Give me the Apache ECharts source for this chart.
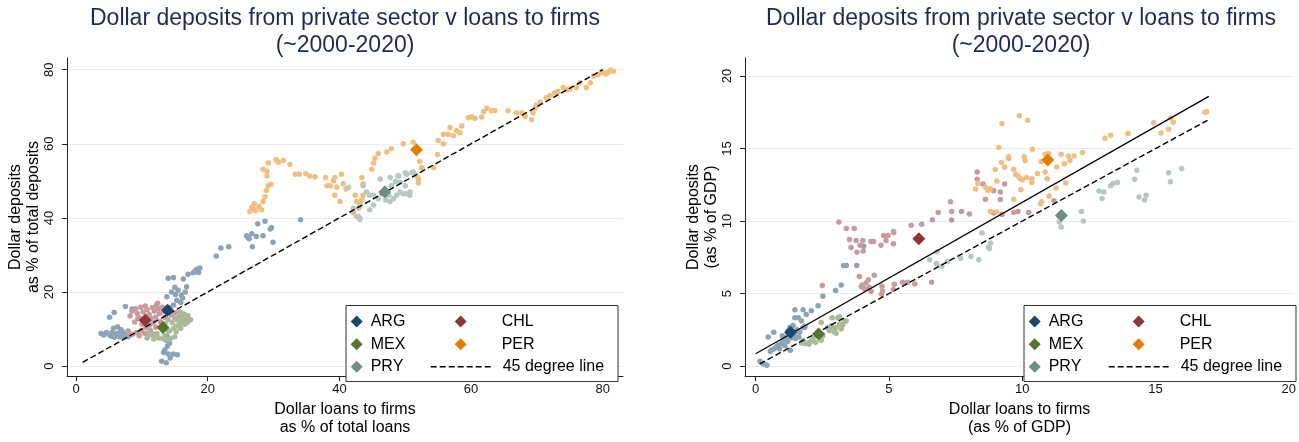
<!DOCTYPE html>
<html><head><meta charset="utf-8">
<script src="https://cdn.jsdelivr.net/npm/echarts@6/dist/echarts.min.js"></script>
<style>html,body{margin:0;padding:0;background:#fff}#c{width:1299px;height:442px}</style>
</head><body><div id="c"></div>
<script>
// ---------- data ----------
const countries = ['ARG', 'CHL', 'MEX', 'PER', 'PRY'];
const countryColors = ['#1a476f', '#90353b', '#55752f', '#e37e00', '#6e8e84'];
const cloudColors = ['#8ca3b7', '#c89a9d', '#aaba97', '#f1be80', '#b7c7c2'];

const shareTicksX = [0, 20, 40, 60, 80];
const shareTicksY = [0, 20, 40, 60, 80];
const gdpTicksX = [0, 5, 10, 15, 20];
const gdpTicksY = [0, 5, 10, 15, 20];

// Left panel: share of total loans / deposits
const shareARG = [[3.8,8.8],[4.2,8.4],[4.6,9.1],[5.0,8.6],[5.3,8.1],[5.5,9.1],[5.8,7.8],[6.0,8.5],[6.3,8.9],[6.6,7.9],[6.9,8.4],[7.2,8.0],[7.5,8.6],[7.9,7.9],[8.3,8.4],[5.7,10.2],[6.3,10.6],[6.8,9.9],[7.0,9.4],
  [5.1,13.2],[5.8,14.5],[7.5,16.1],[8.5,15.4],
  [13.7,7.0],[13.9,5.4],[13.5,4.4],[13.3,3.7],[14.0,3.3],[14.8,3.3],[15.4,3.1],[14.3,2.2],[13.0,1.3],[13.7,0.9],[14.2,6.2],[13.8,8.2],
  [14.0,23.7],[14.8,23.9],[15.0,21.3],[14.5,20.0],[15.5,20.5],[16.0,19.1],[16.6,20.0],[13.8,18.7],[15.3,17.8],[14.8,16.5],[15.9,17.2],[14.2,15.8],[16.2,18.4],[15.1,19.3],[16.8,21.4],[15.4,12.5],[16.0,11.8],[15.7,13.2],
  [17.0,24.8],[17.8,25.2],[18.3,26.1],[18.8,26.5],[16.3,23.5],[18.6,25.3],[18.1,25.7],
  [21.3,29.7],[22.0,31.9],[23.2,32.2],
  [25.9,35.2],[26.3,34.4],[26.7,35.7],[26.8,32.2],[27.6,38.4],[28.4,35.2],[28.7,39.1],[29.5,37.0],[29.7,37.4],[29.9,33.4],[27.4,35.0],[26.1,34.8],[34.1,39.5]];
const shareCHL = [[8.2,13.5],[8.5,14.8],[9.0,15.5],[9.3,14.2],[9.6,13.1],[9.8,15.9],[10.2,14.6],[10.5,16.2],[10.8,15.3],[11.1,14.0],[11.3,12.9],[11.6,15.8],[11.9,14.9],[12.2,16.4],[12.5,15.5],[12.7,14.2],[13.1,15.9],[13.4,14.7],[13.8,15.6],[14.2,14.9],
  [12.1,13.2],[11.8,11.8],[11.2,11.1],[10.6,10.4],[9.9,9.7],[9.2,9.1],[8.6,8.6],[9.6,8.2],[10.4,8.9],[11.3,9.6],[12.1,10.5],[12.8,12.0],[8.9,11.9],[9.4,12.8],[10.0,11.4],[10.7,13.4],[13.5,13.2],[14.5,13.8],[11.9,8.6],[10.9,8.3],[12.4,17.0],[15.1,14.4],[8.0,8.9],[7.9,9.5]];
const shareMEX = [[11.5,8.5],[12.0,8.0],[12.6,7.6],[13.2,7.4],[13.8,7.2],[14.4,7.5],[15.0,7.9],[11.0,9.0],[12.3,8.8],[13.5,8.2],[10.8,7.6],[11.8,7.3],
  [14.2,9.5],[14.8,10.2],[15.3,10.8],[15.8,11.5],[16.3,12.2],[16.8,12.8],[17.0,13.6],[16.5,11.3],[15.9,10.2],[15.2,9.3],[14.6,11.8],[15.5,12.6],[16.1,13.4],[14.0,12.5],[13.5,11.5],[16.9,11.8],[17.4,12.5],[16.4,14.1],[15.0,13.0],[13.8,9.8],[15.8,14.6]];
const sharePER = [[26.4,41.7],[26.9,42.5],[27.3,41.9],[27.8,43.1],[28.2,42.2],[28.4,44.4],[27.1,43.8],[26.7,42.9],[28.7,45.7],[28.9,47.4],[29.2,48.7],[29.6,49.1],[29.0,51.3],[28.4,53.1],[29.0,52.6],[29.2,54.8],[30.4,55.7],[30.7,55.0],[31.5,55.5],[32.5,54.4],
  [33.3,51.8],[33.9,51.8],[34.9,51.9],[35.5,51.3],[36.3,51.1],[37.9,50.9],[38.1,48.7],[38.6,48.7],[39.1,50.0],[39.6,48.3],[39.3,50.9],[40.3,51.8],[40.6,49.2],[41.0,47.8],[39.3,46.1],[40.1,44.4],
  [42.4,46.1],[42.6,44.4],[43.4,50.9],[43.6,49.2],[43.6,46.1],[44.9,53.1],[45.2,54.8],[45.4,56.1],[45.9,57.4],[47.2,57.8],[47.9,58.7],[49.7,60.0],[51.2,60.4],
  [52.2,55.2],[52.5,53.5],[52.0,49.4],[51.7,51.3],[52.0,50.5],[54.3,53.5],[54.9,57.1],[55.0,60.9],[55.8,60.0],[55.8,62.6],[56.5,62.6],[56.8,64.4],[57.3,62.2],[57.8,63.5],[58.3,63.0],[58.6,64.8],[59.6,67.0],
  [42.1,41.3],[42.6,40.4],[42.9,42.6],[43.1,43.9],[43.4,44.8],
  [60.1,67.3],[60.6,66.8],[61.6,67.2],[61.9,68.7],[62.4,69.6],[63.1,68.9],[63.6,69.0],[65.6,68.9],[66.9,68.3],[67.7,68.3],[68.2,67.4],[69.4,68.3],[69.2,66.5],[69.7,69.6],[69.9,70.4],[70.5,71.3],
  [71.4,72.4],[72.0,73.0],[72.7,73.8],[73.2,74.1],[74.0,75.2],[74.5,74.6],[75.0,74.8],[76.0,75.2],[76.5,76.5],[77.5,75.2],[78.1,76.5],[78.6,78.3],[79.3,78.7],[80.1,79.2],[80.8,79.3],[81.6,79.6],[81.2,79.9],[80.5,78.8],[79.8,79.4]];
const sharePRY = [[42.1,41.7],[43.1,40.0],[44.6,42.2],[44.1,47.0],[45.2,46.1],[46.2,50.5],[47.7,50.9],[48.9,51.3],[50.2,51.8],[51.0,52.2],[46.9,47.8],[47.9,48.7],[48.7,46.1],[49.7,46.5],[50.7,47.0],
  [45.9,45.2],[47.7,44.4],[44.6,46.1],[41.4,48.3],[43.6,48.7],[50.0,48.7],[49.2,49.6],[48.5,49.8],[46.4,46.5],[47.5,46.1],[47.0,44.8],[45.2,43.5],[43.1,43.0],
  [42.1,42.6],[42.9,40.4],[43.1,39.6],[48.2,45.2],[49.2,47.0],[50.2,46.5],[50.7,46.1],[49.0,51.3],[50.0,52.2],[51.2,52.4]];
const shareMeans = [[13.9,15.05],[10.5,12.4],[13.2,10.4],[51.7,58.4],[46.9,47.0]];
const shareLine45 = [[1, 1], [80, 80]];

// Right panel: % of GDP
const gdpARG = [[0.16,0.33],[0.35,0.11],[0.25,0.2],[0.42,0.05],[0.47,2.0],[0.68,2.33],[0.6,1.11],[0.78,1.33],[0.97,1.56],[1.03,1.78],[1.16,2.0],[1.28,2.67],[1.47,3.33],[1.47,3.89],[1.6,3.33],[1.72,3.11],[1.78,2.67],[1.9,3.56],[1.84,2.67],
  [2.09,3.82],[2.34,4.16],[2.52,4.82],[3.0,5.22],[3.21,5.6],[3.3,6.93],[3.4,6.93],[3.79,6.93],[4.05,8.27],[0.7,1.2],[0.85,1.45],[0.9,1.2],[1.1,1.4],[1.2,1.7],[1.35,1.95],[1.45,2.2],[1.55,2.5],[1.4,2.8],[1.65,2.35],[1.0,2.1],[1.2,2.4],[1.5,1.9],[1.62,2.0],[0.55,1.0],[1.78,3.89],[1.85,2.75],[1.3,1.1]];
const gdpCHL = [[3.12,9.93],[3.4,9.49],[3.7,9.49],[3.52,8.73],[3.77,8.67],[3.92,8.33],[4.02,8.67],[4.33,8.6],[4.42,8.6],[3.58,8.18],[3.8,7.85],[4.03,7.93],[4.7,8.33],[4.8,9.0],[4.97,9.0],[4.89,8.67],[5.17,9.29],[5.18,9.2],[5.17,8.44],[5.83,9.71],[6.23,9.78],[6.63,10.1],[6.85,10.6],
  [3.89,6.18],[4.14,5.73],[4.23,5.96],[4.45,6.27],[3.96,5.49],[4.08,5.33],[4.26,5.44],[4.33,5.16],[4.74,5.51],[4.76,5.18],[4.72,4.96],[5.2,5.65],[5.16,5.29],[5.51,5.78],[5.7,5.78],[5.97,5.67],[6.6,5.78],[2.5,5.56],[4.0,5.6],
  [7.31,11.33],[7.35,10.67],[7.35,10.07],[7.72,10.67],[8.02,10.49],[8.31,13.38],[8.31,12.89],[8.53,12.56],[8.62,11.51],[8.93,12.1],[9.18,12.0],[9.34,12.56],[9.18,11.49],[8.93,10.56],[9.24,10.45],[9.68,10.6],[9.84,10.67],[10.24,10.6],[11.19,11.4]];
const gdpMEX = [[1.72,1.6],[1.84,1.56],[1.96,1.6],[2.09,1.73],[2.15,1.9],[2.46,1.78],[2.52,2.1],[2.77,2.44],[2.84,2.78],[2.87,3.33],[3.02,2.67],[3.08,3.33],[3.15,2.89],[3.21,2.56],[3.27,2.84],[3.4,3.11],[2.96,2.33],[2.7,2.67],[2.46,3.0],[3.15,3.4],[3.33,3.11],[2.9,2.56],[3.02,2.27],[1.78,1.75],[2.0,1.5],[2.25,1.65]];
const gdpPER = [[9.24,16.73],[9.89,17.27],[10.2,16.96],[9.12,15.07],[10.38,14.96],[9.49,14.44],[9.49,14.3],[9.22,14.04],[8.99,13.56],[9.34,13.71],[9.68,13.56],[10.07,14.44],[10.11,14.16],[9.76,13.22],[9.86,13.07],[9.93,12.93],[10.01,12.84],[10.17,13.0],[10.36,12.93],[10.36,12.67],
  [10.57,13.29],[10.86,13.38],[10.71,14.11],[10.86,14.62],[10.98,14.67],[11.46,14.62],[11.73,14.49],[11.79,14.18],[11.95,14.49],[12.26,14.73],[11.29,13.73],[11.58,13.96],[11.63,12.62],[10.94,12.93],[11.27,12.29],[11.01,11.73],[10.73,11.33],[10.69,11.2],
  [9.95,12.16],[9.68,11.51],[9.05,12.76],[8.62,12.33],[8.71,12.11],[8.8,12.24],[8.81,10.67],[9.05,10.62],[8.25,12.22],[8.34,12.6],
  [13.1,15.71],[13.32,15.93],[13.97,16.04],[14.93,16.78],[15.21,16.07],[15.49,16.33],[15.58,17.11],[15.67,16.82],[16.85,17.51],[16.92,17.55]];
const gdpPRY = [[8.49,9.18],[8.81,8.49],[8.77,8.11],[8.37,7.33],[11.39,9.93],[11.46,9.6],[12.22,10.67],[12.29,10.0],[12.88,12.07],[13.06,12.0],[13.0,11.56],[13.32,12.44],[13.41,12.6],[13.57,12.67],[14.22,12.89],[14.3,13.51],[14.38,11.67],[14.59,11.45],[14.65,11.78],[15.49,13.33],[15.56,12.71],[15.98,13.62],
  [6.53,7.33],[6.78,7.07],[6.98,6.89],[6.81,7.89],[7.19,7.22],[7.69,7.44],[8.08,7.56],[8.74,8.22]];
const gdpMeans = [[1.31,2.33],[6.12,8.78],[2.36,2.22],[10.96,14.22],[11.47,10.38]];
const gdpLine45 = [[0.15, 0.15], [16.95, 16.95]];
const gdpFit = [[0, 0.85], [17, 18.6]];

const titleText = 'Dollar deposits from private sector v loans to firms\n(~2000-2020)';

// ---------- chart ----------
const FONT = "'Liberation Sans', Arial, Helvetica, sans-serif";
const chart = echarts.init(document.getElementById('c'), null, {renderer: 'canvas'});

function makeX(idx, min, max, ticks, name) {
  return {
    type: 'value', gridIndex: idx, min: min, max: max,
    name: name, nameLocation: 'middle', nameGap: 21,
    nameTextStyle: {fontSize: 16, lineHeight: 18, color: '#000', fontFamily: FONT},
    axisLine: {show: true, onZero: false, lineStyle: {color: '#222', width: 1}},
    axisTick: {show: true, length: 5, lineStyle: {color: '#222'}, customValues: ticks},
    axisLabel: {fontSize: 13, color: '#111', margin: 7, customValues: ticks, fontFamily: FONT},
    splitLine: {show: false}
  };
}
function makeY(idx, min, max, ticks, name, gap) {
  return {
    type: 'value', gridIndex: idx, min: min, max: max,
    name: name, nameLocation: 'middle', nameGap: gap, nameRotate: 90,
    nameTextStyle: {fontSize: 16, lineHeight: 18, color: '#000', fontFamily: FONT},
    axisLine: {show: true, onZero: false, lineStyle: {color: '#222', width: 1}},
    axisTick: {show: true, length: 5, lineStyle: {color: '#222'}, customValues: ticks},
    axisLabel: {fontSize: 13, color: '#111', margin: 11, rotate: 90, customValues: ticks, fontFamily: FONT},
    splitLine: {show: true, lineStyle: {color: '#e6eef1', width: 1.2}}
  };
}

const series = [];
const shareClouds = [shareARG, shareCHL, shareMEX, sharePER, sharePRY];
const gdpClouds = [gdpARG, gdpCHL, gdpMEX, gdpPER, gdpPRY];

function addPanel(idx, clouds, means, line45, fit) {
  clouds.forEach((pts, i) => {
    series.push({
      type: 'scatter', name: countries[i] + ' obs', xAxisIndex: idx, yAxisIndex: idx,
      data: pts, symbol: 'circle', symbolSize: 5.5, silent: true,
      itemStyle: {color: cloudColors[i], opacity: 1}, z: 2
    });
  });
  if (fit) {
    series.push({
      type: 'line', name: 'Fitted', xAxisIndex: idx, yAxisIndex: idx, data: fit,
      symbol: 'none', silent: true, lineStyle: {color: '#000', width: 1.3, type: 'solid'}, z: 3
    });
  }
  series.push({
    type: 'line', name: '45 degree line', xAxisIndex: idx, yAxisIndex: idx, data: line45,
    symbol: 'none', silent: true, itemStyle: {color: 'rgba(0,0,0,0)'},
    lineStyle: {color: '#000', width: 1.4, type: [6, 3]}, z: 3
  });
  means.forEach((m, i) => {
    series.push({
      type: 'scatter', name: countries[i], xAxisIndex: idx, yAxisIndex: idx,
      data: [m], symbol: 'diamond', symbolSize: 13, silent: true,
      itemStyle: {color: countryColors[i], opacity: 1}, z: 4
    });
  });
}
addPanel(0, shareClouds, shareMeans, shareLine45, null);
addPanel(1, gdpClouds, gdpMeans, gdpLine45, gdpFit);

// legends (one per entry, two columns x three rows)
const legends = [];
function legendItem(left, rowCenter, name, pad, isLine) {
  const l = {
    show: true, left: left, top: rowCenter - 9, padding: 0, itemGap: 0,
    selectedMode: false, data: [name], orient: 'horizontal',
    itemWidth: isLine ? 62 : 12, itemHeight: 12,
    textStyle: {fontSize: 16, lineHeight: 18, color: '#000', fontFamily: FONT, padding: [0, 0, 0, pad]},
    z: 10
  };
  if (isLine) {
    l.itemStyle = {opacity: 0};
    l.lineStyle = {color: '#000', width: 1.4, type: [6, 3]};
  } else {
    l.icon = 'diamond';
  }
  legends.push(l);
}
function addLegend(boxLeft) {
  const c1 = boxLeft + 10.7 - 6, c2 = boxLeft + 114.7 - 6, dash = boxLeft + 84;
  const rows = [321.6, 344.2, 366.7];
  legendItem(c1, rows[0], 'ARG', 3, false);
  legendItem(c2, rows[0], 'CHL', 30, false);
  legendItem(c1, rows[1], 'MEX', 3, false);
  legendItem(c2, rows[1], 'PER', 30, false);
  legendItem(c1, rows[2], 'PRY', 3, false);
  legendItem(dash, rows[2], '45 degree line', 5, true);
}
addLegend(346);
addLegend(1024);

const option = {
  animation: false,
  backgroundColor: '#fff',
  textStyle: {fontFamily: FONT},
  title: [
    {text: titleText, left: 345, top: 5, padding: 0, textAlign: 'center',
     textStyle: {fontSize: 23, fontWeight: 'normal', color: '#1e2a55', lineHeight: 27, fontFamily: FONT}},
    {text: titleText, left: 1021, top: 5, padding: 0, textAlign: 'center',
     textStyle: {fontSize: 23, fontWeight: 'normal', color: '#1e2a55', lineHeight: 27, fontFamily: FONT}}
  ],
  grid: [
    {left: 67, top: 58, width: 556, height: 329, containLabel: false},
    {left: 745, top: 58, width: 552, height: 329, containLabel: false}
  ],
  xAxis: [
    makeX(0, -1.37, 83.07, shareTicksX, 'Dollar loans to firms\nas % of total loans'),
    makeX(1, -0.4, 20.2, gdpTicksX, 'Dollar loans to firms\n(as % of GDP)')
  ],
  yAxis: [
    makeY(0, -2.69, 83.15, shareTicksY, 'Dollar deposits\nas % of total deposits', 21),
    makeY(1, -0.69, 21.25, gdpTicksY, 'Dollar deposits\n(as % of GDP)', 23)
  ],
  legend: legends,
  graphic: [
    {type: 'rect', z: 5, shape: {x: 346, y: 305.5, width: 272, height: 76}, style: {fill: '#fff', stroke: '#333', lineWidth: 1}},
    {type: 'rect', z: 5, shape: {x: 1024, y: 305.5, width: 272, height: 76}, style: {fill: '#fff', stroke: '#333', lineWidth: 1}}
  ],
  series: series
};
chart.setOption(option);
</script>
</body></html>
